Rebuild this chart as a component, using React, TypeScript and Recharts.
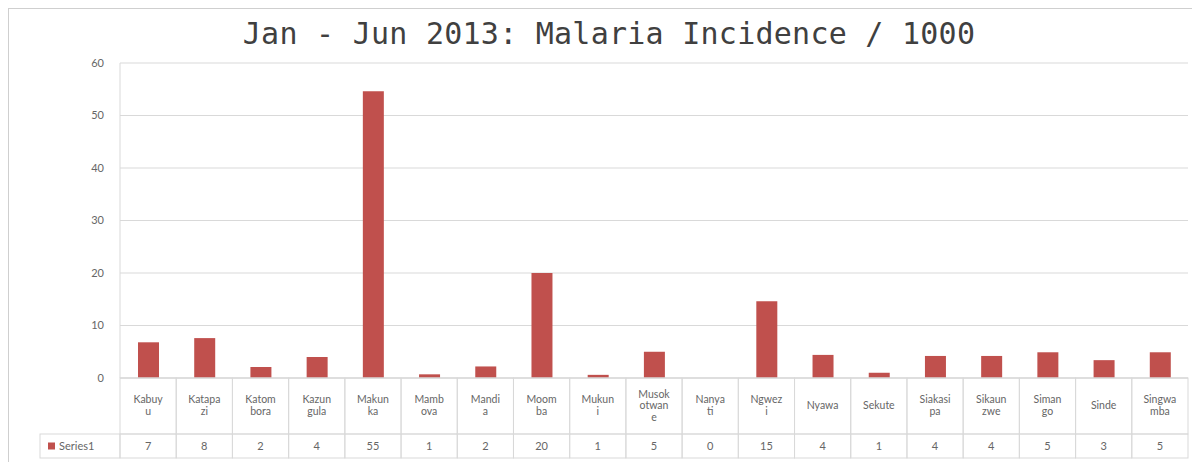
import React from 'react';
import { BarChart, Bar, XAxis, YAxis, CartesianGrid } from 'recharts';

const title = 'Jan - Jun 2013: Malaria Incidence / 1000';
const seriesName = 'Series1';

const categories = [
  'Kabuyu', 'Katapazi', 'Katombora', 'Kazungula', 'Makunka', 'Mambova', 'Mandia',
  'Moomba', 'Mukuni', 'Musokotwane', 'Nanyati', 'Ngwezi', 'Nyawa', 'Sekute',
  'Siakasipa', 'Sikaunzwe', 'Simango', 'Sinde', 'Singwamba',
];

const labelLines = [
  ['Kabuy', 'u'], ['Katapa', 'zi'], ['Katom', 'bora'], ['Kazun', 'gula'], ['Makun', 'ka'],
  ['Mamb', 'ova'], ['Mandi', 'a'], ['Moom', 'ba'], ['Mukun', 'i'], ['Musok', 'otwan', 'e'],
  ['Nanya', 'ti'], ['Ngwez', 'i'], ['Nyawa'], ['Sekute'], ['Siakasi', 'pa'],
  ['Sikaun', 'zwe'], ['Siman', 'go'], ['Sinde'], ['Singwa', 'mba'],
];

const series1 = [6.8, 7.6, 2.1, 4.0, 54.6, 0.7, 2.2, 20.0, 0.6, 5.0, 0, 14.6, 4.4, 1.0, 4.2, 4.2, 4.9, 3.4, 4.9];

const yTicks = [0, 10, 20, 30, 40, 50, 60];

const data = categories.map((c, i) => ({ name: c, value: series1[i] }));

const BAR_COLOR = '#c0504d';
const GRID = '#d9d9d9';
const TEXT = '#666666';
const FONT = 'Lato, "Open Sans", sans-serif';

const TableTick = (props: any) => {
  const { x, y, payload } = props;
  const i = categories.indexOf(payload.value);
  const half = payload && typeof payload.offset === 'number' && payload.offset > 0 ? payload.offset : 28.1;
  const left = x - half;
  const w = half * 2;
  const labelH = 56;
  const valueH = 24;
  const lines = labelLines[i] || [String(payload.value)];
  const lh = 11.5;
  const centerY = y + 27;
  const firstY = centerY - ((lines.length - 1) * lh) / 2;
  return (
    <g>
      <rect x={left} y={y} width={w} height={labelH} fill="none" stroke={GRID} strokeWidth={1} />
      <rect x={left} y={y + labelH} width={w} height={valueH} fill="none" stroke={GRID} strokeWidth={1} />
      {lines.map((ln, k) => (
        <text
          key={k}
          x={x}
          y={firstY + k * lh + 4}
          textAnchor="middle"
          fontSize={10.5}
          fontFamily={FONT}
          fill={TEXT}
        >
          {ln}
        </text>
      ))}
      <text x={x} y={y + labelH + 16} textAnchor="middle" fontSize={11} fontFamily={FONT} fill={TEXT}>
        {Math.round(series1[i])}
      </text>
      {i === 0 && (
        <g>
          <rect x={left - 80} y={y + labelH} width={80} height={valueH} fill="none" stroke={GRID} strokeWidth={1} />
          <rect x={left - 72} y={y + labelH + 8.5} width={7} height={7} fill={BAR_COLOR} />
          <text x={left - 61} y={y + labelH + 16} fontSize={11} fontFamily={FONT} fill={TEXT}>
            {seriesName}
          </text>
        </g>
      )}
    </g>
  );
};

export default function App() {
  return (
    <div
      style={{
        position: 'relative',
        width: 1186,
        height: 460,
        border: '1px solid #cfcfcf',
        background: '#ffffff',
        boxSizing: 'border-box',
      }}
    >
      <div
        style={{
          position: 'absolute',
          left: 0,
          top: 8,
          width: 1200,
          textAlign: 'center',
          fontFamily: '"DejaVu Sans Mono", "Liberation Mono", monospace',
          fontSize: 30,
          letterSpacing: 0.25,
          color: '#404040',
          lineHeight: '34px',
        }}
      >
        {title}
      </div>
      <BarChart
        width={1184}
        height={458}
        data={data}
        margin={{ top: 54, right: 5, bottom: 0, left: 0 }}
        barCategoryGap={0}
      >
        <CartesianGrid vertical={false} stroke={GRID} strokeWidth={1} />
        <XAxis
          dataKey="name"
          type="category"
          interval={0}
          height={89}
          tickSize={0}
          tickMargin={0}
          axisLine={{ stroke: GRID }}
          tickLine={false}
          tick={<TableTick />}
        />
        <YAxis
          type="number"
          domain={[0, 60]}
          ticks={yTicks}
          interval={0}
          width={111}
          tickSize={0}
          tickMargin={16}
          tickLine={false}
          axisLine={{ stroke: GRID }}
          tick={{ fontSize: 11, fontFamily: FONT, fill: TEXT }}
        />
        <Bar dataKey="value" fill={BAR_COLOR} barSize={21} isAnimationActive={false} />
      </BarChart>
    </div>
  );
}
